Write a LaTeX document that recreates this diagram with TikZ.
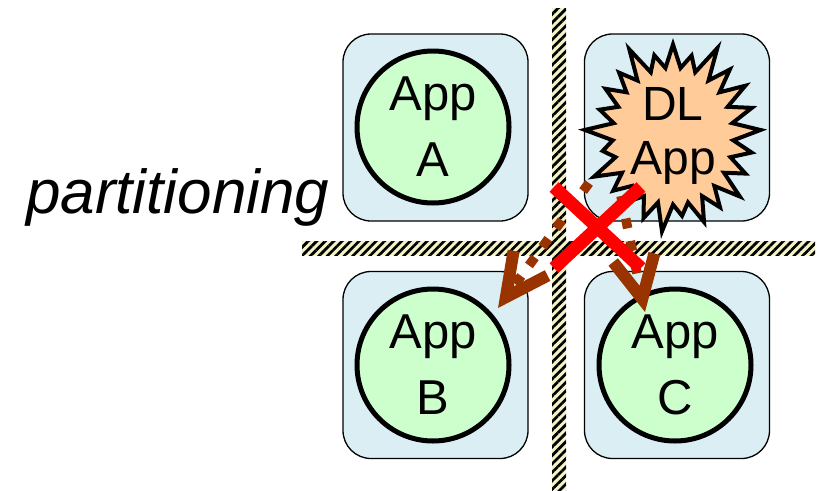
\documentclass[tikz,border=0pt]{standalone}
\usepackage{fontspec}
\setmainfont{Liberation Sans}
\usepackage{xcolor}
\usepackage{tikz}
\usetikzlibrary{arrows.meta,positioning,shapes.symbols,shapes.misc,patterns.meta}
\definecolor{ptBox}{HTML}{DAEEF3}
\definecolor{ptApp}{HTML}{CCFFCC}
\definecolor{ptBurst}{HTML}{FFCC99}
\definecolor{ptBrown}{HTML}{993300}
\definecolor{ptHatch}{HTML}{F2F2C4}
\definecolor{ptRed}{HTML}{FF0000}

\begin{document}
\begin{tikzpicture}[x=1pt,y=-1pt,
  cell/.style={draw=black,line width=1.3pt,fill=ptBox,rounded corners=28pt,
    minimum width=185pt,minimum height=187pt,inner sep=0pt},
  app/.style={circle,draw=black,line width=5pt,fill=ptApp,minimum size=152pt,
    inner sep=0pt,align=center,font=\fontsize{49}{66}\selectfont},
  burst/.style={starburst,starburst points=25,starburst point height=32pt,
    draw=black,line width=4pt,fill=ptBurst,minimum width=182pt,minimum height=180pt,
    inner sep=0pt,align=center,font=\fontsize{48}{54}\selectfont},
  wall/.style={fill=ptHatch,inner sep=0pt,
    postaction={pattern={Lines[angle=45,distance=6pt,line width=2.7pt]},pattern color=black}},
  leak/.style={draw=ptBrown,line width=9.5pt,dash pattern=on 10pt off 13pt,
    -{Straight Barb[length=42pt 0,width=42pt 0,line width=12pt 0]}},
  veto/.style={cross out,draw=ptRed,line width=13pt,inner sep=0pt,
    minimum width=74pt,minimum height=68pt}
]
\useasboundingbox (0,0) rectangle (819,490);
% partitions
\node[cell] (cellA) at (435.5,127.5) {};
\node[cell] (cellDL) at (677,127.5) {};
\node[cell] (cellB) at (435.5,365) {};
\node[cell] (cellC) at (677,365) {};
% apps
\node[app] (appA) at (433,127) {App\\A};
\node[burst] (dl) at (673,136) {DL\\App};
\node[app] (appB) at (433,365) {App\\B};
\node[app] (appC) at (675,365) {App\\C};
% walls
\node[wall,minimum width=14pt,minimum height=482pt] (vwall) at (559,249) {};
\node[wall,minimum width=513pt,minimum height=14pt] (hwall) at (558.5,248) {};
\node[font=\fontsize{62}{70}\selectfont\itshape,anchor=base east] (label) at (333,213) {partitioning};
% interference
\coordinate (leakB) at (589,183);
\coordinate (hitB) at (498,308);
\coordinate (leakC) at (621,196);
\coordinate (hitC) at (645,312);
\draw[leak] (leakB)--(hitB);
\draw[leak] (leakC)--(hitC);
\node[veto] (block) at (597.5,227.5) {};
\end{tikzpicture}
\end{document}
